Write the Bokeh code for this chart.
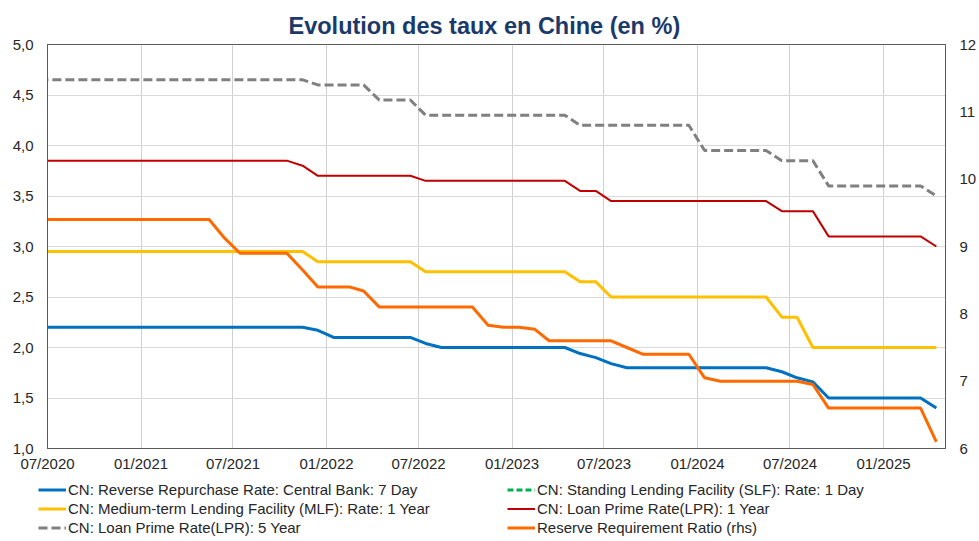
import pandas as pd
from bokeh.plotting import figure
from bokeh.layouts import column, row
from bokeh.models import (Range1d, LinearAxis, FixedTicker, CustomJSTickFormatter,
                          Legend, LegendItem, ColumnDataSource)
from bokeh.embed import file_html
from bokeh.resources import INLINE

# ---------------- data (monthly, June 2020 -> April 2025) ----------------
months = pd.date_range("2020-06-01", "2025-04-01", freq="MS")

reverse_repo_7d = [
    2.20, 2.20, 2.20, 2.20, 2.20, 2.20, 2.20, 2.20, 2.20, 2.20, 2.20, 2.20,
    2.20, 2.20, 2.20, 2.20, 2.20, 2.20, 2.17, 2.10, 2.10, 2.10, 2.10, 2.10,
    2.10, 2.04, 2.00, 2.00, 2.00, 2.00, 2.00, 2.00, 2.00, 2.00, 2.00, 1.94,
    1.90, 1.84, 1.80, 1.80, 1.80, 1.80, 1.80, 1.80, 1.80, 1.80, 1.80, 1.80,
    1.76, 1.70, 1.66, 1.50, 1.50, 1.50, 1.50, 1.50, 1.50, 1.50, 1.40,
]
# SLF overnight rate: no values shown on the chart (legend entry only)
slf_1d = [float("nan")] * len(reverse_repo_7d)
mlf_1y = [
    2.95, 2.95, 2.95, 2.95, 2.95, 2.95, 2.95, 2.95, 2.95, 2.95, 2.95, 2.95,
    2.95, 2.95, 2.95, 2.95, 2.95, 2.95, 2.85, 2.85, 2.85, 2.85, 2.85, 2.85,
    2.85, 2.75, 2.75, 2.75, 2.75, 2.75, 2.75, 2.75, 2.75, 2.75, 2.75, 2.65,
    2.65, 2.50, 2.50, 2.50, 2.50, 2.50, 2.50, 2.50, 2.50, 2.50, 2.50, 2.50,
    2.30, 2.30, 2.00, 2.00, 2.00, 2.00, 2.00, 2.00, 2.00, 2.00, 2.00,
]
lpr_1y = [
    3.85, 3.85, 3.85, 3.85, 3.85, 3.85, 3.85, 3.85, 3.85, 3.85, 3.85, 3.85,
    3.85, 3.85, 3.85, 3.85, 3.85, 3.80, 3.70, 3.70, 3.70, 3.70, 3.70, 3.70,
    3.70, 3.65, 3.65, 3.65, 3.65, 3.65, 3.65, 3.65, 3.65, 3.65, 3.65, 3.55,
    3.55, 3.45, 3.45, 3.45, 3.45, 3.45, 3.45, 3.45, 3.45, 3.45, 3.45, 3.45,
    3.35, 3.35, 3.35, 3.10, 3.10, 3.10, 3.10, 3.10, 3.10, 3.10, 3.00,
]
lpr_5y = [
    4.65, 4.65, 4.65, 4.65, 4.65, 4.65, 4.65, 4.65, 4.65, 4.65, 4.65, 4.65,
    4.65, 4.65, 4.65, 4.65, 4.65, 4.65, 4.60, 4.60, 4.60, 4.60, 4.45, 4.45,
    4.45, 4.30, 4.30, 4.30, 4.30, 4.30, 4.30, 4.30, 4.30, 4.30, 4.30, 4.20,
    4.20, 4.20, 4.20, 4.20, 4.20, 4.20, 4.20, 3.95, 3.95, 3.95, 3.95, 3.95,
    3.85, 3.85, 3.85, 3.60, 3.60, 3.60, 3.60, 3.60, 3.60, 3.60, 3.50,
]
rrr = [
    9.40, 9.40, 9.40, 9.40, 9.40, 9.40, 9.40, 9.40, 9.40, 9.40, 9.40, 9.40,
    9.12, 8.90, 8.90, 8.90, 8.90, 8.65, 8.40, 8.40, 8.40, 8.34, 8.10, 8.10,
    8.10, 8.10, 8.10, 8.10, 8.10, 7.83, 7.80, 7.80, 7.77, 7.60, 7.60, 7.60,
    7.60, 7.60, 7.50, 7.40, 7.40, 7.40, 7.40, 7.05, 7.00, 7.00, 7.00, 7.00,
    7.00, 7.00, 6.95, 6.60, 6.60, 6.60, 6.60, 6.60, 6.60, 6.60, 6.10,
]

tick_dates = ["2020-07-01", "2021-01-01", "2021-07-01", "2022-01-01", "2022-07-01",
              "2023-01-01", "2023-07-01", "2024-01-01", "2024-07-01", "2025-01-01"]
tick_labels = ["07/2020", "01/2021", "07/2021", "01/2022", "07/2022",
               "01/2023", "07/2023", "01/2024", "07/2024", "01/2025"]

series_labels = [
    "CN: Reverse Repurchase Rate: Central Bank: 7 Day",
    "CN: Standing Lending Facility (SLF): Rate: 1 Day",
    "CN: Medium-term Lending Facility (MLF): Rate: 1 Year",
    "CN: Loan Prime Rate(LPR): 1 Year",
    "CN: Loan Prime Rate(LPR): 5 Year",
    "Reserve Requirement Ratio (rhs)",
]
series_cols = ["rr", "slf", "mlf", "lpr1", "lpr5", "rrr"]

# ---------------- build ----------------
origin = pd.Timestamp("2020-07-01")
x_days = [(m + pd.Timedelta(days=14) - origin).days for m in months]
ticks = [(pd.Timestamp(d) - origin).days for d in tick_dates]
x_end = (pd.Timestamp("2025-05-03") - origin).days

src = ColumnDataSource(dict(x=x_days, rr=reverse_repo_7d, slf=slf_1d, mlf=mlf_1y,
                            lpr1=lpr_1y, lpr5=lpr_5y, rrr=rrr))

FONT = "Liberation Sans"
TXT = "#262626"

styles = [
    dict(line_color="#0070C0", line_width=3),
    dict(line_color="#00B050", line_width=3, line_dash="6 3"),
    dict(line_color="#FFC000", line_width=3),
    dict(line_color="#C00000", line_width=2),
    dict(line_color="#808080", line_width=3, line_dash="9 4"),
    dict(line_color="#FF6A00", line_width=3),
]

p = figure(width=979, height=475, output_backend="svg", toolbar_location=None,
           x_range=Range1d(0, x_end), y_range=Range1d(1.0, 5.0),
           min_border_left=47, min_border_right=34, min_border_top=44,
           min_border_bottom=27)
p.extra_y_ranges = {"rrr": Range1d(6, 12)}

p.title.text = "Evolution des taux en Chine (en %)"
p.title.text_font = FONT
p.title.text_font_size = "23.5px"
p.title.text_font_style = "bold"
p.title.text_color = "#1B3A6B"
p.title.align = "left"
p.title.offset = 241
p.title.standoff = 12

p.outline_line_color = "#595959"
p.outline_line_width = 1
p.background_fill_color = "white"
p.border_fill_color = "white"

# axes
xa = p.xaxis[0]
xa.ticker = FixedTicker(ticks=ticks)
xa.major_label_overrides = {t: l for t, l in zip(ticks, tick_labels)}
ya = p.yaxis[0]
ya.ticker = FixedTicker(ticks=[1.0, 1.5, 2.0, 2.5, 3.0, 3.5, 4.0, 4.5, 5.0])
ya.formatter = CustomJSTickFormatter(code="return tick.toFixed(1).replace('.', ',');")
ya.major_label_standoff = 14
xa.major_label_standoff = 6

ra = LinearAxis(y_range_name="rrr", ticker=FixedTicker(ticks=[6, 7, 8, 9, 10, 11, 12]))
ra.formatter = CustomJSTickFormatter(code="return tick.toFixed(0);")
ra.major_label_standoff = 14
p.add_layout(ra, "right")

for ax in (xa, ya, ra):
    ax.axis_line_color = "#595959"
    ax.major_tick_line_color = None
    ax.minor_tick_line_color = None
    ax.major_tick_out = 0
    ax.major_tick_in = 0
    ax.major_label_text_font = FONT
    ax.major_label_text_font_size = "15px"
    ax.major_label_text_color = TXT

p.xgrid.ticker = FixedTicker(ticks=ticks)
p.xgrid.grid_line_color = "#D0D0D0"
p.ygrid.grid_line_color = "#D9D9D9"

# lines (drawing order: orange on top)
for col, st in zip(series_cols, styles):
    if col == "rrr":
        p.line("x", col, source=src, y_range_name="rrr", **st)
    else:
        p.line("x", col, source=src, **st)

# ---------------- legend strip below the chart ----------------
lg = figure(width=979, height=66, output_backend="svg", toolbar_location=None,
            x_range=Range1d(0, 1), y_range=Range1d(-2, -1),
            x_axis_type=None, y_axis_type=None,
            min_border_left=0, min_border_right=0,
            min_border_top=0, min_border_bottom=0)
lg.outline_line_color = None
lg.grid.visible = False
lg.background_fill_color = "white"
lg.border_fill_color = "white"

# same series, out of this strip's view: only their legend glyphs are shown
leg_renderers = [lg.line("x", col, source=src, **st) for col, st in zip(series_cols, styles)]
legend = Legend(items=[LegendItem(label=l, renderers=[r]) for l, r in zip(series_labels, leg_renderers)],
                orientation="horizontal", ncols=2, location=(38, 5))
legend.label_text_font = FONT
legend.label_text_font_size = "15px"
legend.label_text_color = TXT
legend.glyph_width = 28
legend.glyph_height = 17
legend.label_height = 17
legend.label_standoff = 2
legend.label_width = 437
legend.spacing = 2
legend.padding = 0
legend.margin = 0
legend.border_line_color = None
legend.background_fill_alpha = 0
lg.add_layout(legend, "center")

layout = column(p, row(lg, spacing=0), spacing=0)
open("out.html", "w").write(file_html(layout, INLINE))
